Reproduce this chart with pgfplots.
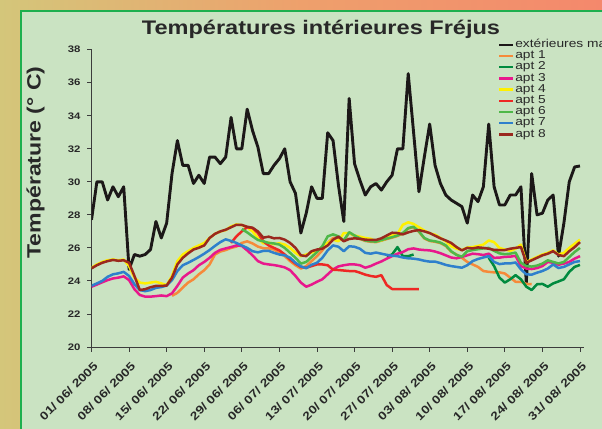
\documentclass[border=0pt]{standalone}
\usepackage{fontspec}
\setmainfont{Liberation Sans}[FakeStretch=1.2]
\usepackage{pgfplots}
\usepackage{pgfplotstable}
\pgfplotsset{compat=1.18}
\definecolor{bgtan}{RGB}{212,198,122}
\definecolor{bgmid}{RGB}{238,160,108}
\definecolor{bgsal}{RGB}{244,136,108}
\definecolor{panel}{RGB}{202,227,194}
\definecolor{frame}{RGB}{29,175,78}
\definecolor{axgray}{RGB}{60,60,60}
\definecolor{txtgray}{RGB}{40,40,40}
\definecolor{cext}{RGB}{28,24,24}
\definecolor{ca1}{RGB}{246,138,58}
\definecolor{ca2}{RGB}{0,138,62}
\definecolor{ca3}{RGB}{232,24,140}
\definecolor{ca4}{RGB}{255,240,0}
\definecolor{ca5}{RGB}{238,40,36}
\definecolor{ca6}{RGB}{78,184,72}
\definecolor{ca7}{RGB}{46,128,204}
\definecolor{ca8}{RGB}{154,40,30}
\pgfplotstableread{
d ext a1 a2 a3 a4 a5 a6 a7 a8
0 27.7 nan nan 23.65 24.80 nan nan 23.71 24.76
1 30.0 nan nan 23.78 25.00 nan nan 23.85 24.95
2 30.0 nan nan 23.92 25.15 nan nan 24.00 25.10
3 28.9 nan nan 24.05 25.25 nan nan 24.25 25.20
4 29.7 nan nan 24.15 25.30 nan nan 24.40 25.27
5 29.1 nan nan 24.20 25.25 nan nan 24.46 25.22
6 29.7 nan nan 24.28 25.30 nan nan 24.55 25.25
7 24.7 nan nan 24.05 24.90 nan nan 24.30 25.10
8 25.6 nan nan 23.50 24.20 nan nan 23.80 24.30
9 25.5 nan nan 23.15 23.90 nan nan 23.45 23.45
10 25.6 nan nan 23.05 23.85 nan nan 23.38 23.50
11 25.9 nan nan 23.05 23.90 nan nan 23.45 23.62
12 27.6 nan nan 23.08 23.95 nan nan 23.58 23.70
13 26.6 nan nan 23.12 23.85 nan nan 23.63 23.70
14 27.5 nan nan 23.08 23.75 nan nan 23.72 23.72
15 30.5 23.10 nan 23.25 24.30 nan nan 24.05 24.20
16 32.5 23.28 nan 23.70 25.20 nan nan 24.60 25.00
17 31.0 23.60 nan 24.20 25.60 nan nan 24.95 25.40
18 31.0 23.90 nan 24.45 25.80 nan nan 25.10 25.67
19 29.9 24.10 nan 24.65 26.00 nan nan 25.27 25.90
20 30.4 24.40 nan 24.95 26.15 nan nan 25.45 26.01
21 29.9 24.65 nan 25.15 26.30 nan nan 25.65 26.15
22 31.5 25.00 nan 25.40 26.60 nan nan 25.87 26.60
23 31.5 25.60 nan 25.70 26.85 nan nan 26.12 26.85
24 31.1 25.78 nan 25.88 27.00 nan nan 26.35 27.00
25 31.5 25.87 nan 25.97 27.08 nan nan 26.52 27.10
26 33.9 26.00 nan 26.05 27.30 26.30 nan 26.42 27.25
27 32.0 26.08 nan 26.15 27.42 26.70 nan 26.30 27.40
28 32.0 26.30 nan 26.12 27.38 27.00 27.14 26.15 27.39
29 34.4 26.40 nan 25.85 27.25 27.25 26.94 26.00 27.28
30 33.1 26.27 nan 25.55 27.00 27.20 26.70 25.80 27.22
31 32.1 26.08 nan 25.20 26.60 26.90 26.48 25.73 27.00
32 30.5 25.98 nan 25.05 26.27 26.40 26.40 25.82 26.62
33 30.5 25.97 nan 25.00 26.32 26.15 26.30 25.82 26.68
34 31.0 25.90 nan 24.96 26.22 26.00 26.27 25.70 26.58
35 31.4 25.70 nan 24.90 26.28 25.85 26.20 25.60 26.60
36 32.0 25.50 nan 24.82 26.20 25.60 26.00 25.55 26.50
37 30.0 25.20 nan 24.65 26.00 25.30 25.70 25.40 26.30
38 29.3 24.95 nan 24.30 25.70 25.05 25.40 25.10 26.00
39 26.9 24.75 nan 23.90 25.50 24.85 25.05 24.88 25.55
40 28.1 24.90 nan 23.65 25.60 24.80 25.15 24.77 25.50
41 29.7 25.20 nan 23.78 25.72 24.90 25.45 24.98 25.80
42 29.0 25.50 nan 23.95 25.82 25.00 25.75 25.10 25.90
43 29.0 25.85 nan 24.10 26.05 25.00 26.10 25.40 25.95
44 32.97 26.30 nan 24.40 26.30 24.95 26.70 25.85 26.15
45 32.5 26.60 nan 24.70 26.50 24.68 26.82 26.15 26.50
46 29.8 26.60 nan 24.88 26.40 24.66 26.70 26.07 26.68
47 27.6 26.42 nan 24.95 26.90 24.63 26.45 25.80 26.40
48 35.05 26.92 nan 25.00 26.90 24.60 26.95 26.10 26.54
49 31.1 26.72 nan 25.00 26.75 24.60 26.75 26.07 26.58
50 30.1 26.55 nan 24.95 26.68 24.50 26.58 25.95 26.55
51 29.2 26.42 nan 24.80 26.60 24.38 26.45 25.70 26.50
52 29.7 26.37 nan 24.90 26.55 24.30 26.40 25.65 26.48
53 29.9 26.35 nan 25.05 26.40 24.25 26.38 25.72 26.48
54 29.5 26.44 nan 25.18 26.45 24.35 26.47 25.65 26.58
55 30.0 26.54 25.50 25.35 26.60 23.75 26.57 25.58 26.75
56 30.4 26.62 25.60 25.50 26.75 23.51 26.65 25.53 26.92
57 32.0 26.72 26.05 25.65 26.85 23.51 26.75 25.50 26.90
58 32.0 26.87 25.50 25.75 27.40 23.51 26.90 25.42 26.82
59 36.55 27.17 25.50 25.92 27.55 23.51 27.20 25.37 26.94
60 33.0 27.25 25.60 25.97 27.45 23.51 27.28 25.35 27.03
61 29.4 26.97 nan 25.90 27.25 23.51 27.00 25.30 27.08
62 31.5 26.57 nan 25.87 27.05 nan 26.60 25.22 27.00
63 33.5 26.42 nan 25.85 26.88 nan 26.45 25.17 26.90
64 31.0 26.37 nan 25.78 26.80 nan 26.40 25.17 26.74
65 29.9 26.29 nan 25.68 26.60 nan 26.32 25.08 26.58
66 29.2 26.12 nan 25.55 26.40 nan 26.15 24.97 26.45
67 28.9 25.77 nan 25.42 26.10 nan 25.80 24.90 26.30
68 28.7 25.60 nan 25.37 25.95 nan 25.57 24.85 26.05
69 28.5 25.40 nan 25.45 25.87 nan 25.47 24.80 25.85
70 27.5 25.15 nan 25.55 26.02 nan 25.80 24.95 26.00
71 29.2 25.00 nan 25.65 26.05 nan 25.87 25.20 25.97
72 28.8 24.85 nan 25.62 26.12 nan 25.92 25.33 26.03
73 29.7 24.60 nan 25.57 26.20 nan 25.97 25.42 26.00
74 33.5 24.55 25.40 25.65 26.45 nan 26.00 25.50 25.95
75 29.7 24.52 24.90 25.40 26.35 nan 25.82 25.15 25.88
76 28.6 24.52 24.20 25.41 26.00 nan 25.67 25.02 25.87
77 28.6 24.45 23.90 25.46 25.90 nan 25.62 25.06 25.87
78 29.2 24.20 24.10 25.47 25.82 nan 25.65 25.06 25.95
79 29.2 23.95 24.35 25.52 25.95 nan 25.72 25.12 26.00
80 29.7 23.95 24.10 24.90 26.20 nan 25.10 24.70 26.05
81 23.86 23.82 23.65 24.75 25.15 nan 24.90 24.40 25.10
82 30.5 23.80 23.45 24.72 25.30 nan 24.87 24.38 25.25
83 28.0 nan 23.80 24.78 25.45 nan 24.93 24.50 25.40
84 28.1 nan 23.82 24.90 25.60 nan 25.05 24.60 25.55
85 28.9 nan 23.65 25.15 25.70 nan 25.25 24.75 25.65
86 29.2 nan 23.85 25.10 25.85 nan 25.15 25.00 25.80
87 25.5 nan 23.97 24.98 25.60 nan 25.06 24.78 25.57
88 27.5 nan 24.10 25.05 25.70 nan 25.15 24.85 25.50
89 30.0 nan 24.55 25.15 26.00 nan 25.45 25.00 25.80
90 30.9 nan 24.85 25.35 26.25 nan 25.75 25.15 26.05
91 30.96 nan 24.97 25.50 26.50 nan 26.00 25.20 26.35
}\temps
\begin{document}
\begin{tikzpicture}[x=1bp,y=1bp]
\useasboundingbox (0,0) rectangle (602,428);
\clip (0,0) rectangle (602,428);
\shade[left color=bgtan, right color=bgsal, middle color=bgmid] (0,0) rectangle (602,428);
\fill[panel] (20.5,-10) rectangle (640,417);
\draw[frame, line width=2bp] (20.5,-10) -- (20.5,417) -- (640,417);
\node[font=\bfseries\fontsize{19.7}{22}\selectfont, text=txtgray] at (321,399) {Températures intérieures Fréjus};
\node[rotate=90, font=\bfseries\fontsize{19.3}{22}\selectfont, text=txtgray] at (35.6,265.5) {Température (° C)};
\begin{axis}[
  at={(91.5bp,81bp)}, anchor=south west,
  scale only axis, width=492.5bp, height=297.3bp,
  xmin=0, xmax=91.75, ymin=20, ymax=38,
  axis x line*=bottom, axis y line*=left,
  axis line style={draw=axgray, line width=0.9bp},
  tick style={draw=axgray, line width=0.9bp},
  tick align=outside, major tick length=4.5bp,
  ytick={20,22,...,38},
  xtick={0,7,...,91},
  xticklabels={01/ 06/ 2005,08/ 06/ 2005,15/ 06/ 2005,22/ 06/ 2005,29/ 06/ 2005,06/ 07/ 2005,13/ 07/ 2005,20/ 07/ 2005,27/ 07/ 2005,03/ 08/ 2005,10/ 08/ 2005,17/ 08/ 2005,24/ 08/ 2005,31/ 08/ 2005},
  /pgf/number format/assume math mode=true,
  yticklabel style={font=\bfseries\fontsize{9.5}{10}\selectfont, text=txtgray, xshift=-3bp},
  xticklabel style={font=\bfseries\fontsize{11.5}{12}\selectfont, text=txtgray, xshift=5bp, yshift=-12bp, rotate=45, anchor=east, inner sep=1bp},
  unbounded coords=jump,
  line join=round,
  legend style={at={(axis description cs:0.8254,1.036)}, anchor=north west, draw=none, fill=none,
    font=\fontsize{11.5}{12}\selectfont, text=txtgray, inner sep=0pt, row sep=0pt,
    nodes={inner sep=0.6bp, text height=7.8bp, text depth=2.2bp}},
  legend cell align=left,
  legend image code/.code={\draw[#1, line width=2.5bp] (0bp,0bp) -- (14bp,0bp);},
]
\addplot[cext, line width=2.9bp] table[x=d, y=ext] {\temps};
\addlegendentry{extérieures max}
\addplot[ca1, line width=2.5bp] table[x=d, y=a1] {\temps};
\addlegendentry{apt 1}
\addplot[ca2, line width=2.5bp] table[x=d, y=a2] {\temps};
\addlegendentry{apt 2}
\addplot[ca3, line width=2.5bp] table[x=d, y=a3] {\temps};
\addlegendentry{apt 3}
\addplot[ca4, line width=2.5bp] table[x=d, y=a4] {\temps};
\addlegendentry{apt 4}
\addplot[ca5, line width=2.5bp] table[x=d, y=a5] {\temps};
\addlegendentry{apt 5}
\addplot[ca6, line width=2.5bp] table[x=d, y=a6] {\temps};
\addlegendentry{apt 6}
\addplot[ca7, line width=2.5bp] table[x=d, y=a7] {\temps};
\addlegendentry{apt 7}
\addplot[ca8, line width=2.5bp] table[x=d, y=a8] {\temps};
\addlegendentry{apt 8}
\end{axis}
\end{tikzpicture}
\end{document}
